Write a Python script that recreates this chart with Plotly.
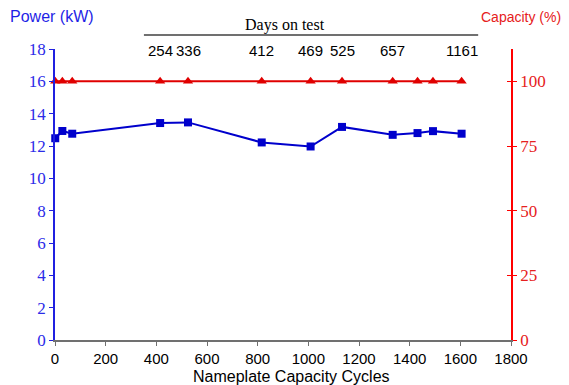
import plotly.graph_objects as go

cycles = [1, 29, 68, 415, 525, 816, 1009, 1133, 1333, 1431, 1492, 1605]
power_kw = [12.48, 12.93, 12.76, 13.42, 13.46, 12.22, 11.97, 13.18, 12.69, 12.80, 12.92, 12.76]
capacity_pct = [100] * 12

days_cycles = [415, 525, 816, 1009, 1133, 1333, 1605]
days_labels = ["254", "336", "412", "469", "525", "657", "1161"]

x_ticks = [0, 200, 400, 600, 800, 1000, 1200, 1400, 1600, 1800]
left_ticks = [0, 2, 4, 6, 8, 10, 12, 14, 16, 18]
right_ticks = [0, 25, 50, 75, 100]

BLUE = "#0000CC"
BLUE_TXT = "#2B2BE8"
RED = "#E00000"
RED_TXT = "#E62020"
SERIF = "Liberation Serif, Times New Roman, serif"
SANS = "Liberation Sans, Arial, sans-serif"

fig = go.Figure()
fig.add_trace(go.Scatter(
    x=cycles, y=capacity_pct, yaxis="y2", mode="lines+markers",
    line=dict(color=RED, width=2),
    marker=dict(symbol="triangle-up", size=9, color=RED),
    showlegend=False, cliponaxis=False))
fig.add_trace(go.Scatter(
    x=cycles, y=power_kw, mode="lines+markers",
    line=dict(color=BLUE, width=2),
    marker=dict(symbol="square", size=8, color=BLUE),
    showlegend=False, cliponaxis=False))
# dummy trace so the crossing tick axis is drawn
fig.add_trace(go.Scatter(x=[None], y=[None], yaxis="y3", showlegend=False))

fig.update_layout(
    width=561, height=377,
    margin=dict(l=47, r=58, t=41, b=45),
    paper_bgcolor="white", plot_bgcolor="white",
    xaxis=dict(range=[0, 1800], tickvals=x_ticks, ticktext=[str(v) for v in x_ticks],
               showgrid=False, zeroline=False, showline=True, linecolor="#707070", linewidth=1.5,
               ticks="outside", ticklen=4, tickcolor="#707070",
               tickfont=dict(family=SANS, size=15, color="black")),
    yaxis=dict(range=[0, 18], tickvals=left_ticks, showgrid=False, zeroline=False,
               showline=True, linecolor="#2020E0", linewidth=1.5,
               ticks="outside", ticklen=4, tickcolor="#2020E0",
               tickfont=dict(family=SERIF, size=17, color=BLUE_TXT)),
    yaxis2=dict(range=[0, 112.5], tickvals=right_ticks, overlaying="y", side="right",
                showgrid=False, zeroline=False, showline=True, linecolor="#FF0000", linewidth=1.5,
                ticks="outside", ticklen=4, tickcolor="#FF0000",
                tickfont=dict(family=SERIF, size=17, color=RED_TXT)),
    yaxis3=dict(range=[0, 112.5], tickvals=right_ticks, overlaying="y", side="right",
                showgrid=False, zeroline=False, showline=False, showticklabels=False,
                ticks="inside", ticklen=4, tickcolor="#FF0000"),
)

annotations = [
    dict(text="Power (kW)", xref="paper", yref="paper", x=-0.103, y=1.111, xanchor="left",
         yanchor="middle", showarrow=False, font=dict(family=SANS, size=16, color="#1F1FE6")),
    dict(text="Capacity (%)", xref="paper", yref="paper", x=0.93, y=1.111, xanchor="left",
         yanchor="middle", showarrow=False, font=dict(family=SANS, size=14, color=RED_TXT)),
    dict(text="Nameplate Capacity Cycles", xref="paper", yref="paper", x=0.298, y=-0.125,
         xanchor="left", yanchor="middle", showarrow=False,
         font=dict(family=SANS, size=16, color="black")),
    dict(text="Days on test", xref="paper", yref="paper", x=0.504, y=1.082, xanchor="center",
         yanchor="middle", showarrow=False, font=dict(family=SERIF, size=16, color="black")),
]
for cx, lab in zip(days_cycles, days_labels):
    annotations.append(dict(text=lab, x=cx, xref="x", yref="paper", y=0.995, xanchor="center",
                            yanchor="middle", showarrow=False,
                            font=dict(family=SANS, size=15, color="black")))
fig.update_layout(annotations=annotations)

fig.add_shape(type="line", xref="paper", yref="paper", x0=0.195, x1=0.928, y0=1.048, y1=1.048,
              line=dict(color="#707070", width=2))

fig.write_html("out.html")
